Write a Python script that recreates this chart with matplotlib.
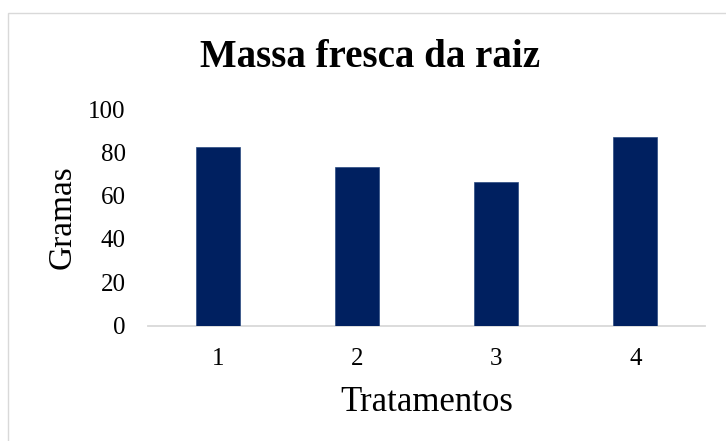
import matplotlib
matplotlib.use("Agg")
import matplotlib.pyplot as plt
from matplotlib.patches import Rectangle

tratamentos = ["1", "2", "3", "4"]
massa_raiz = [82.3, 73.1, 66.2, 87.2]
y_ticks = [0, 20, 40, 60, 80, 100]

BAR_COLOR = "#002060"
AXIS_COLOR = "#D9D9D9"

plt.rcParams["font.family"] = ["Liberation Serif", "DejaVu Serif"]

fig = plt.figure(figsize=(7.26, 4.41), dpi=100)
W, H = 726, 441
ax = fig.add_axes([148 / W, (H - 325.5) / H, (705 - 148) / W, (325.5 - 109) / H])

x = list(range(len(tratamentos)))
ax.bar(x, massa_raiz, width=0.315, color=BAR_COLOR, edgecolor="#2a4a80",
       linewidth=0.5, zorder=3)

ax.set_xlim(-0.5, len(tratamentos) - 0.5)
ax.set_ylim(0, 100)
ax.set_yticks(y_ticks)
ax.set_xticks(x)
ax.set_xticklabels(tratamentos)

for side in ["top", "right", "left"]:
    ax.spines[side].set_visible(False)
ax.spines["bottom"].set_color(AXIS_COLOR)
ax.spines["bottom"].set_linewidth(1.3)

ax.tick_params(axis="both", length=0, labelsize=18, colors="black")
ax.tick_params(axis="y", pad=16)
ax.tick_params(axis="x", pad=16)

ax.set_xlabel("Tratamentos", fontsize=25, labelpad=12)
ax.set_ylabel("Gramas", fontsize=24, labelpad=8)

fig.text(370 / W, (H - 67) / H, "Massa fresca da raiz", fontsize=28,
         fontweight="bold", ha="center", va="baseline")

# chart area border
fig.patches.append(Rectangle((8 / W, -0.1), 1.2, (H - 12.5) / H + 0.1,
                             transform=fig.transFigure, fill=False,
                             edgecolor=AXIS_COLOR, linewidth=1.0))

fig.savefig("out.png", dpi=100, facecolor="white")
